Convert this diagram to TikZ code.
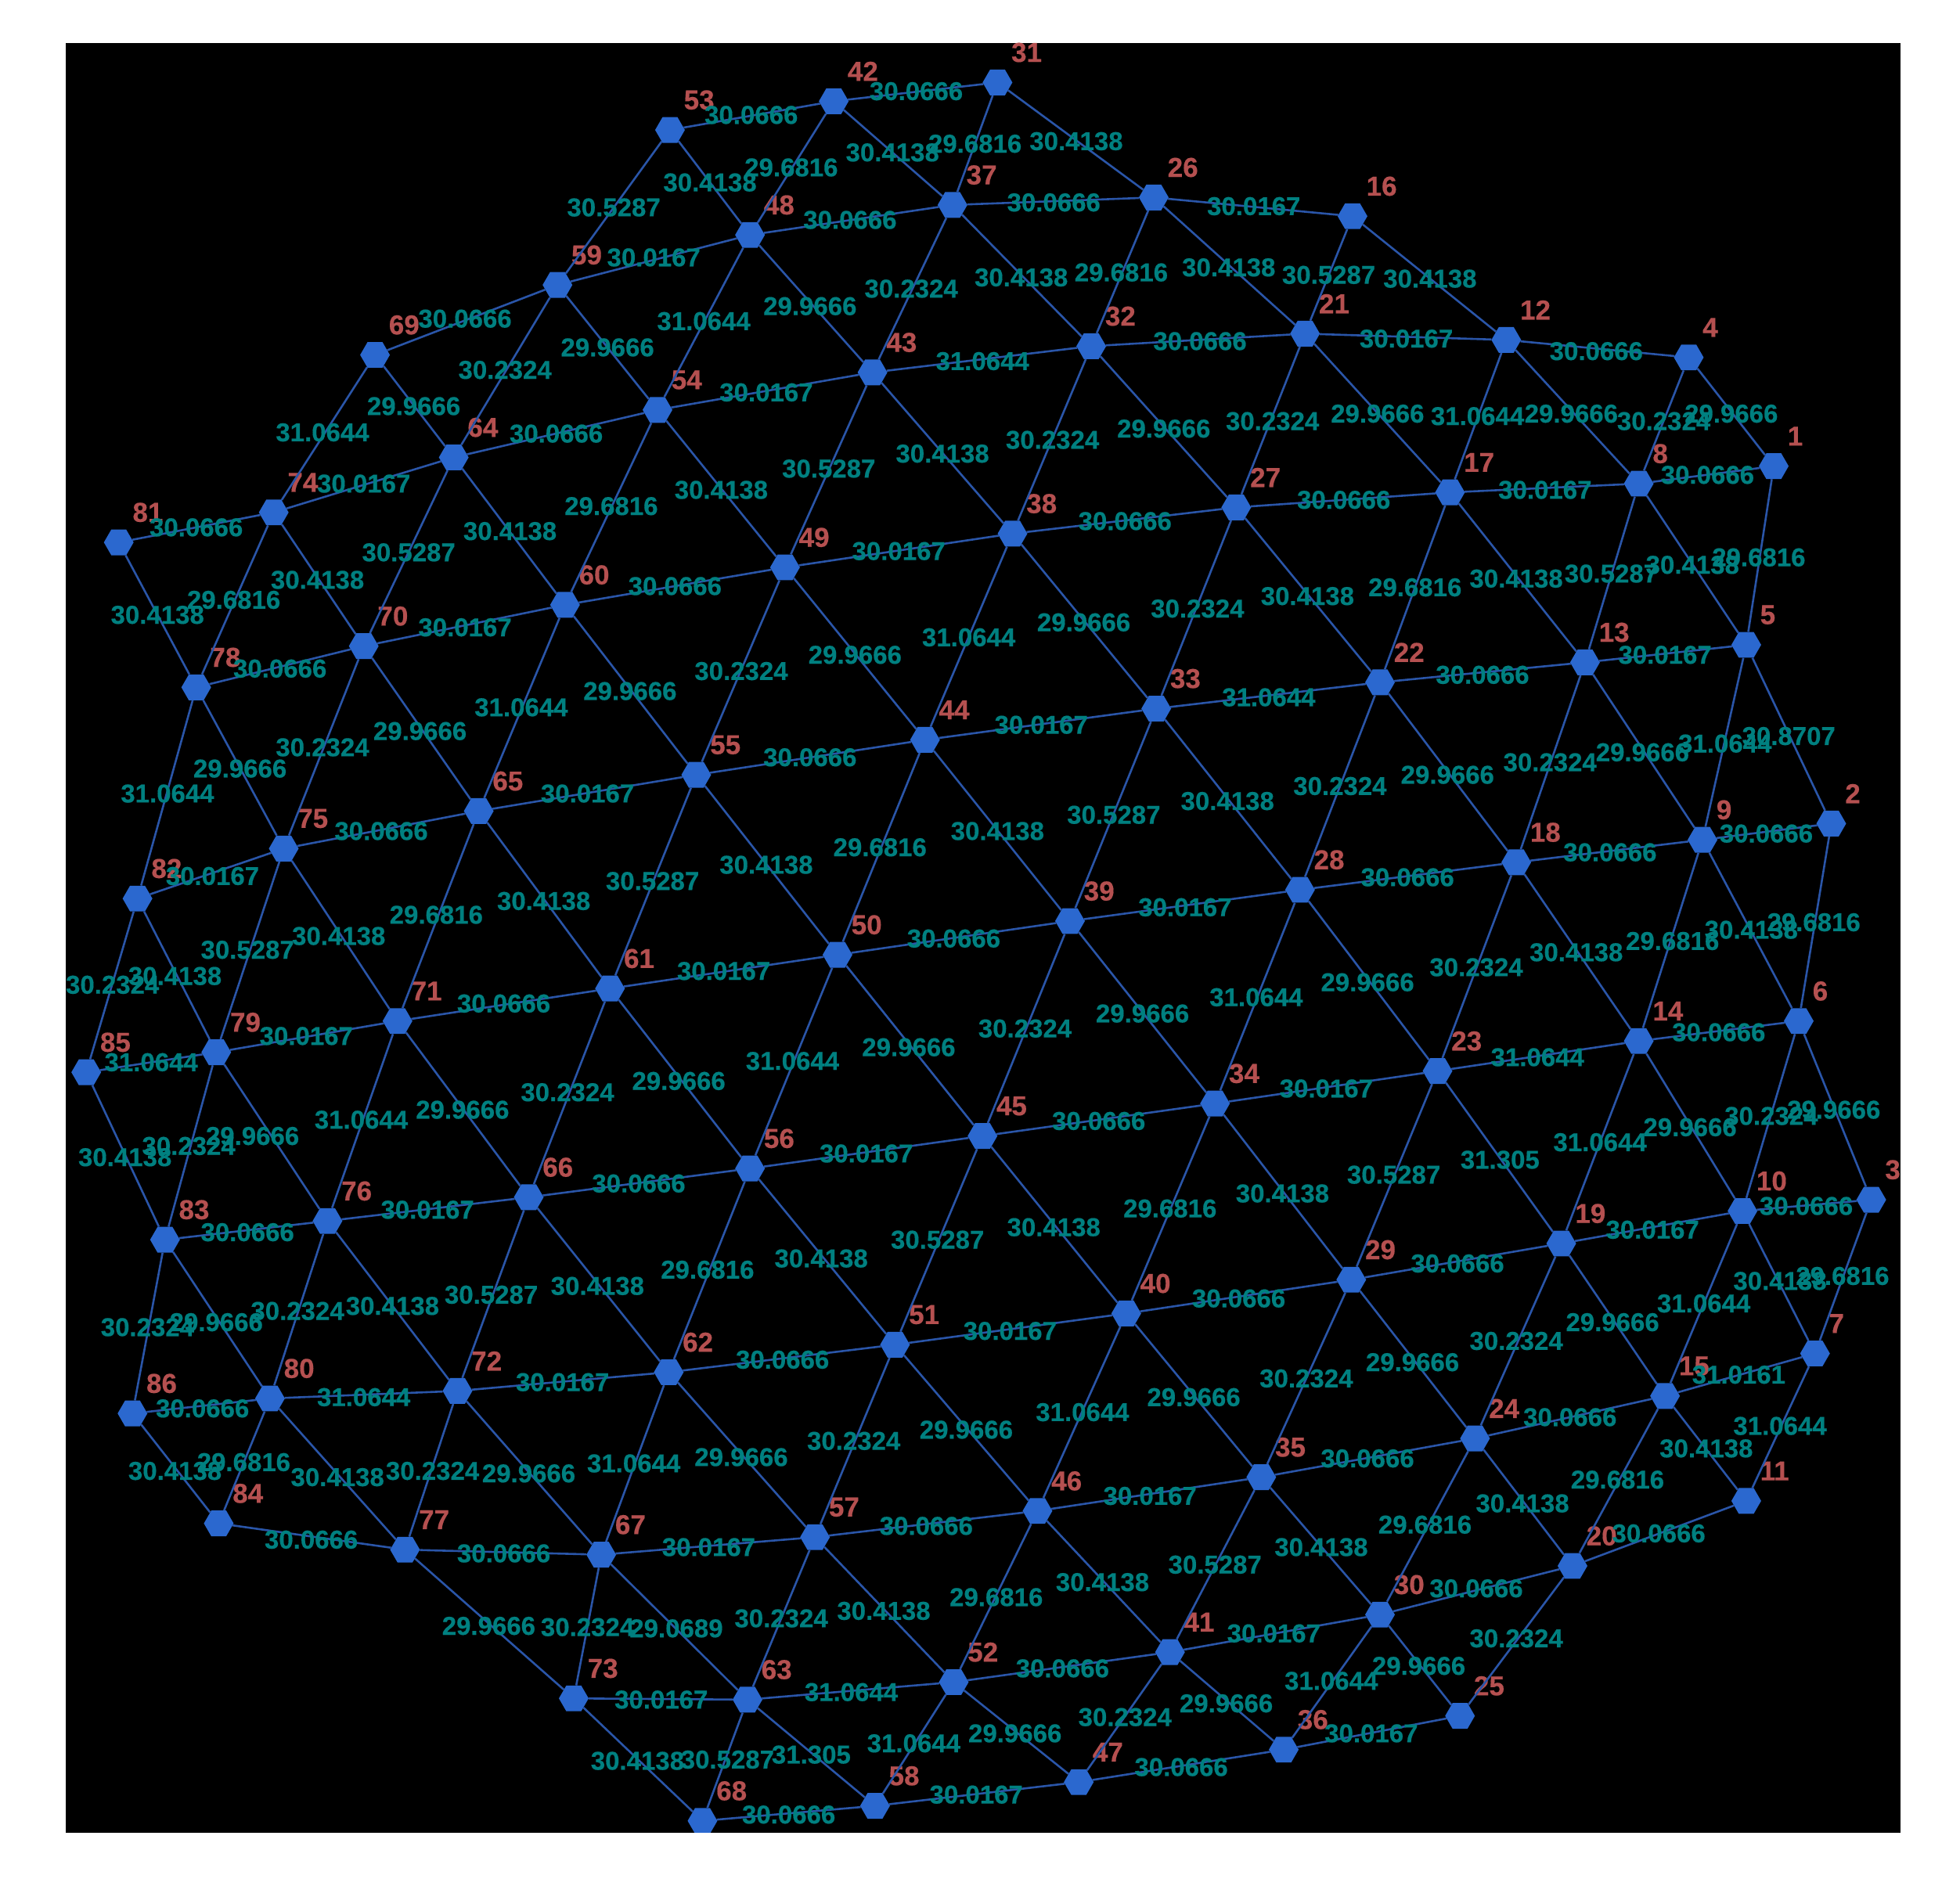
\documentclass[tikz,border=0pt]{standalone}
\usepackage{fontspec}
\setmainfont{Liberation Sans}[BoldFeatures={FakeBold=0.4}]
\usetikzlibrary{shapes.geometric}
\definecolor{hexblue}{HTML}{2B68CF}
\definecolor{edgeblue}{HTML}{2A55A8}
\definecolor{numred}{HTML}{B55050}
\definecolor{weightteal}{HTML}{008080}
\tikzset{
  vertex/.style={regular polygon,regular polygon sides=6,fill=hexblue,inner sep=0pt,minimum size=38pt},
  edge/.style={edgeblue,line width=2.6pt},
  vnum/.style={anchor=west,inner sep=0pt,text=numred,font=\fontsize{35}{35}\selectfont\bfseries},
  weight/.style={inner sep=0pt,text=weightteal,font=\fontsize{33}{33}\selectfont\bfseries}
}
\begin{document}
\begin{tikzpicture}[x=1.597pt,y=-1.597pt]
\useasboundingbox (0,0) rectangle (1568,1523.5);
\clip (52.6,34.4) rectangle (1520.4,1466.5);
\fill[black] (52.6,34.4) rectangle (1520.4,1466.5);
\foreach \i/\x/\y in {1/1419/373,2/1465/659,3/1497/960,4/1351/286,5/1397/516,6/1439/817,7/1452/1083,8/1311/387,9/1362/672,10/1394/969,
11/1397/1201,12/1205/272,13/1268/530,14/1311/833,15/1332/1117,16/1082/173,17/1160/394,18/1213/690,19/1249/995,20/1258/1253,
21/1044/267,22/1104/546,23/1150/857,24/1180/1151,25/1168/1373,26/923/158,27/989/406,28/1040/712,29/1081/1024,30/1104/1292,
31/798/66,32/873/277,33/925/567,34/972/883,35/1009/1182,36/1027/1400,37/762/164,38/810/427,39/856/737,40/901/1051,
41/936/1322,42/667/81,43/698/298,44/740/592,45/786/909,46/830/1209,47/863/1426,48/600/188,49/628/454,50/670/764,
51/716/1076,52/763/1346,53/536/104,54/526/328,55/557/620,56/600/935,57/652/1230,58/700/1445,59/446/228,60/452/484,
61/488/791,62/535/1098,63/598/1360,64/363/366,65/383/649,66/423/958,67/481/1244,68/562/1457,69/300/284,70/291/517,
71/318/817,72/366/1113,73/459/1359,74/219/410,75/227/679,76/262/977,77/324/1240,78/157/550,79/173/842,80/216/1119,
81/95/434,82/110/719,83/132/992,84/175/1219,85/69/858,86/106/1131}
{
\node[vertex] (n\i) at (\x,\y) {};
\node[vnum] (t\i) at ([shift={(11,-24)}]n\i.center) {\i};
}
% rows
\foreach \a/\b/\x/\y/\w in {53/42/601/92/30.0666,42/31/733/73/30.0666,26/16/1003/165/30.0167,37/26/843/162/30.0666,48/37/680/176/30.0666,
59/48/523/206/30.0167,69/59/372/255/30.0666,64/54/445/347/30.0666,54/43/613/314/30.0167,43/32/786/289/31.0644,32/21/960/273/30.0666,
21/12/1125/271/30.0167,12/4/1277/281/30.0666,74/64/291/387/30.0167,81/74/157/422/30.0666,78/70/224/535/30.0666,70/60/372/502/30.0167,
60/49/540/469/30.0666,49/38/719/441/30.0167,38/27/900/417/30.0666,27/17/1075/400/30.0666,17/8/1236/392/30.0167,8/1/1366/380/30.0666,
82/75/170/701/30.0167,75/65/305/665/30.0666,65/55/470/635/30.0167,55/44/648/606/30.0666,44/33/833/580/30.0167,33/22/1015/558/31.0644,
22/13/1186/540/30.0666,13/5/1332/524/30.0167,85/79/121/850/31.0644,79/71/245/829/30.0167,71/61/403/803/30.0666,61/50/579/777/30.0167,
50/39/763/751/30.0666,39/28/948/726/30.0167,28/18/1126/702/30.0666,18/9/1288/682/30.0666,9/2/1413/667/30.0666,83/76/198/986/30.0666,
76/66/342/968/30.0167,66/56/511/947/30.0666,56/45/693/923/30.0167,45/34/879/897/30.0666,34/23/1061/871/30.0167,23/14/1230/846/31.0644,
14/6/1375/826/30.0666,86/80/162/1127/30.0666,80/72/291/1118/31.0644,72/62/450/1106/30.0167,62/51/626/1088/30.0666,51/40/808/1065/30.0167,
40/29/991/1039/30.0666,29/19/1166/1011/30.0666,19/10/1322/984/30.0167,10/3/1445/965/30.0666,84/77/249/1232/30.0666,77/67/403/1243/30.0666,
67/57/567/1238/30.0167,57/46/741/1221/30.0666,46/35/920/1197/30.0167,35/24/1094/1167/30.0666,24/15/1256/1134/30.0666,15/7/1391/1100/31.0161,
73/63/529/1360/30.0167,63/52/681/1354/31.0644,52/41/850/1335/30.0666,41/30/1019/1307/30.0167,30/20/1181/1271/30.0666,20/11/1327/1227/30.0666,
68/58/631/1452/30.0666,58/47/781/1436/30.0167,47/36/945/1414/30.0666,36/25/1097/1387/30.0167,
% down right
53/48/568/146/30.4138,42/37/714/122/30.4138,31/26/861/113/30.4138,16/12/1144/223/30.4138,48/43/648/245/29.9666,37/32/817/222/30.4138,
26/21/983/214/30.4138,12/8/1257/331/29.9666,4/1/1385/331/29.9666,69/64/331/325/29.9666,59/54/486/278/29.9666,43/38/754/363/30.4138,
32/27/931/343/29.9666,21/17/1102/331/29.9666,8/5/1354/452/30.4138,64/60/408/425/30.4138,54/49/577/392/30.4138,38/33/867/498/29.9666,
27/22/1046/477/30.4138,17/13/1213/463/30.4138,74/70/254/464/30.4138,60/55/504/553/29.9666,49/44/684/524/29.9666,33/28/982/641/30.4138,
22/18/1158/620/29.9666,13/9/1314/602/29.9666,5/2/1431/589/30.8707,81/78/126/492/30.4138,70/65/336/585/29.9666,78/75/192/615/29.9666,
55/50/613/692/30.4138,44/39/798/665/30.4138,28/23/1094/786/29.9666,18/14/1261/762/30.4138,9/6/1401/744/30.4138,65/61/435/721/30.4138,
75/71/271/749/30.4138,82/79/140/781/30.4138,50/45/727/838/29.9666,39/34/914/811/29.9666,23/19/1200/928/31.305,14/10/1352/902/29.9666,
6/3/1467/888/29.9666,61/56/543/865/29.9666,71/66/370/888/29.9666,79/76/202/909/29.9666,85/83/100/926/30.4138,34/29/1026/955/30.4138,
45/40/843/982/30.4138,19/15/1290/1058/29.9666,10/7/1424/1025/30.4138,56/51/657/1007/30.4138,66/62/478/1029/30.4138,76/72/314/1045/30.4138,
83/80/173/1058/29.9666,29/24/1130/1090/29.9666,40/35/955/1118/29.9666,15/11/1365/1159/30.4138,51/46/773/1144/29.9666,62/57/593/1166/29.9666,
72/67/423/1179/29.9666,80/77/270/1182/30.4138,86/84/140/1177/30.4138,24/20/1218/1203/30.4138,35/30/1057/1238/30.4138,77/73/391/1301/29.9666,
67/63/541/1303/29.0689,57/52/707/1289/30.4138,46/41/882/1266/30.4138,30/25/1135/1333/29.9666,41/36/981/1363/29.9666,52/47/812/1387/29.9666,
63/58/649/1404/31.305,73/68/510/1409/30.4138,
% down left
53/59/491/166/30.5287,42/48/633/134/29.6816,31/37/780/115/29.6816,26/32/897/218/29.6816,37/43/729/231/30.2324,48/54/563/257/31.0644,
59/64/404/296/30.2324,69/74/258/346/31.0644,16/21/1063/220/30.5287,21/27/1018/337/30.2324,32/38/842/352/30.2324,43/49/663/375/30.5287,
54/60/489/405/29.6816,64/70/327/442/30.5287,74/78/187/480/29.6816,12/17/1182/333/31.0644,4/8/1331/337/30.2324,8/13/1289/459/30.5287,
17/22/1132/470/29.6816,27/33/958/487/30.2324,38/44/775/510/31.0644,49/55/593/537/30.2324,60/65/417/566/31.0644,70/75/258/598/30.2324,
78/82/134/635/31.0644,1/5/1407/446/29.6816,5/9/1380/595/31.0644,13/18/1240/610/30.2324,22/28/1072/629/30.2324,33/39/891/652/30.5287,
44/50/704/678/29.6816,55/61/522/705/30.5287,65/71/349/732/29.6816,75/79/198/760/30.5287,82/85/90/788/30.2324,2/6/1451/738/29.6816,
9/14/1338/753/29.6816,18/23/1181/774/30.2324,28/34/1005/798/31.0644,39/45/820/823/30.2324,50/56/634/849/31.0644,61/66/454/874/30.2324,
71/76/289/896/31.0644,79/83/151/917/30.2324,6/10/1417/893/30.2324,14/19/1280/914/31.0644,23/29/1115/940/30.5287,34/40/936/967/29.6816,
45/51/750/992/30.5287,56/62/566/1016/29.6816,66/72/393/1036/30.5287,76/80/238/1049/30.2324,83/86/118/1062/30.2324,3/7/1474/1021/29.6816,
10/15/1363/1043/31.0644,19/24/1213/1073/30.2324,29/35/1045/1103/30.2324,40/46/866/1130/31.0644,51/57/683/1153/30.2324,62/67/507/1171/31.0644,
72/77/346/1177/30.2324,80/84/195/1170/29.6816,7/11/1424/1141/31.0644,15/20/1294/1184/29.6816,24/30/1140/1220/29.6816,35/41/972/1252/30.5287,
46/52/797/1278/29.6816,57/63/625/1295/30.2324,67/73/470/1302/30.2324,20/25/1213/1311/30.2324,30/36/1065/1345/31.0644,41/47/900/1374/30.2324,
52/58/731/1395/31.0644,63/68/582/1408/30.5287}
{
\draw[edge] (n\a) -- (n\b);
\node[weight] (w\a-\b) at (\x,\y) {\w};
}
\end{tikzpicture}
\end{document}
